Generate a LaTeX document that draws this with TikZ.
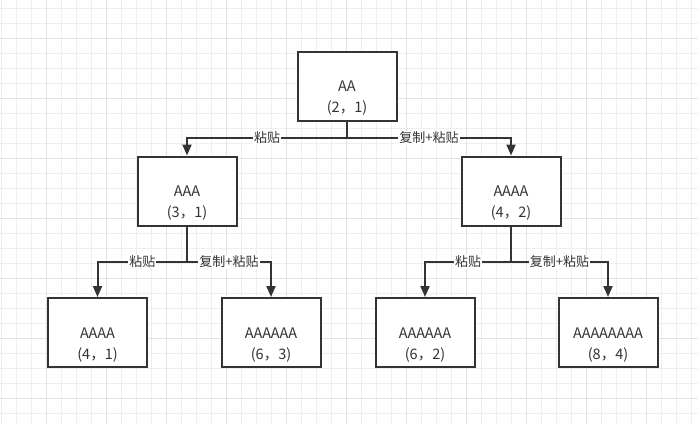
\documentclass[tikz,border=0pt]{standalone}
\usepackage{fontspec}
\setmainfont{Noto Sans CJK SC}
\usetikzlibrary{arrows.meta}
\definecolor{ink}{HTML}{333333}
\definecolor{gridminor}{HTML}{EEEEEE}
\definecolor{gridmajor}{HTML}{E2E2E2}
\newcommand{\topgap}{\rule{0pt}{18pt}}
\begin{document}
\begin{tikzpicture}[x=1pt,y=-1pt,
	box/.style={draw=ink,line width=2pt,fill=white,minimum width=99pt,minimum height=69pt,
		inner ysep=0pt,align=center,text=ink,font=\fontsize{14.5}{21}\selectfont},
	edge/.style={draw=ink,line width=2pt,-{Triangle[length=11pt,width=9pt]}},
	lbl/.style={fill=white,inner sep=1pt,text=ink,font=\fontsize{13}{15}\selectfont}]
	\useasboundingbox (0,0) rectangle (698,424);
	\fill[white] (0,0) rectangle (698,424);
%	background grid
	\foreach \x in {1,16,...,698} \draw[gridminor,line width=1pt] (\x,0) -- (\x,424);
	\foreach \y in {8,23,...,424} \draw[gridminor,line width=1pt] (0,\y) -- (698,\y);
	\foreach \x in {46,106,...,698} \draw[gridmajor,line width=1pt] (\x,0) -- (\x,424);
	\foreach \y in {38,98,...,424} \draw[gridmajor,line width=1pt] (0,\y) -- (698,\y);

	\coordinate (j1) at (347,138);
	\coordinate (j2) at (187,262);
	\coordinate (j3) at (511,262);

	\node[box] (n21) at (347,86)      {\topgap\\\strut AA\\\strut (2，1)};
	\node[box] (n31) at (187,191)     {\topgap\\\strut AAA\\\strut (3，1)};
	\node[box] (n42) at (511,191)     {\topgap\\\strut AAAA\\\strut (4，2)};
	\node[box] (n41) at (97.5,332.5)  {\topgap\\\strut AAAA\\\strut (4，1)};
	\node[box] (n63) at (271,332.5)   {\topgap\\\strut AAAAAA\\\strut (6，3)};
	\node[box] (n62) at (425,332.5)   {\topgap\\\strut AAAAAA\\\strut (6，2)};
	\node[box] (n84) at (608,332.5)   {\topgap\\\strut AAAAAAAA\\\strut (8，4)};

	\draw[edge] (n21) -- (j1) -| node[pos=.25,lbl]{粘贴} (n31);
	\draw[edge] (n21) -- (j1) -| node[pos=.25,lbl]{复制+粘贴} (n42);
	\draw[edge] (n31) -- (j2) -| node[pos=.25,lbl]{粘贴} (n41);
	\draw[edge] (n31) -- (j2) -| node[pos=.25,lbl]{复制+粘贴} (n63);
	\draw[edge] (n42) -- (j3) -| node[pos=.25,lbl]{粘贴} (n62);
	\draw[edge] (n42) -- (j3) -| node[pos=.25,lbl]{复制+粘贴} (n84);
\end{tikzpicture}
\end{document}
